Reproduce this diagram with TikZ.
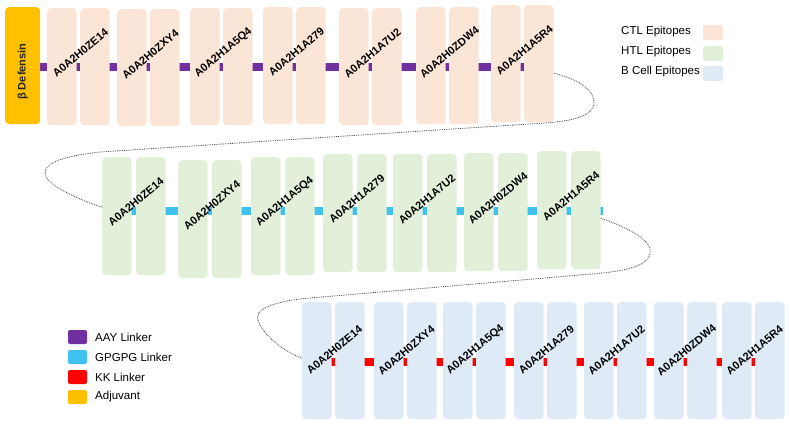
\documentclass[tikz,border=0pt]{standalone}
\usepackage{fontspec}
\setmainfont{Liberation Sans}
\usetikzlibrary{backgrounds}

\definecolor{ctlfill}{HTML}{FBE5D6}
\definecolor{htlfill}{HTML}{E2F0D9}
\definecolor{bcellfill}{HTML}{DEEBF7}
\definecolor{aaycol}{HTML}{7030A0}
\definecolor{gpgpgcol}{HTML}{40C2F1}
\definecolor{kkcol}{HTML}{FF0000}
\definecolor{adjcol}{HTML}{FFC000}

\begin{document}
\begin{tikzpicture}[
  x=1pt, y=-1pt,
  epi/.style={rectangle, draw=none, rounded corners=4pt, minimum width=29.5pt, minimum height=117pt, inner sep=0pt, anchor=north west},
  ctl/.style={epi, fill=ctlfill},
  htl/.style={epi, fill=htlfill, minimum height=118pt},
  bcell/.style={epi, fill=bcellfill},
  adjbox/.style={epi, fill=adjcol, minimum width=35pt},
  epilabel/.style={font=\fontsize{11}{13}\selectfont\bfseries, rotate=40, inner sep=0pt},
  linker/.style={line width=8pt},
  aay/.style={linker, draw=aaycol},
  gpgpg/.style={linker, draw=gpgpgcol},
  kk/.style={linker, draw=kkcol},
  swatch/.style={rectangle, rounded corners=2pt, minimum width=20pt, minimum height=15pt, inner sep=0pt},
  legtext/.style={font=\fontsize{11.5}{13}\selectfont, anchor=west, inner sep=0pt},
  chain/.style={densely dotted, line width=0.8pt, draw=black!75}
]
\useasboundingbox (0,0) rectangle (790,425);

% adjuvant
\node[adjbox] (adj) at (5,7) {};
\node[rotate=90, font=\fontsize{11}{13}\selectfont\bfseries, text=black!85] (adjtext) at ([yshift=-6pt]adj.center) {β Defensin};

% CTL row
\foreach \x/\y/\lab [count=\i] in {47/8/A0A2H0ZE14, 117/9/A0A2H0ZXY4, 190/8/A0A2H1A5Q4, 263/7/A0A2H1A279, 339/8/A0A2H1A7U2, 416/7/A0A2H0ZDW4, 491/5/A0A2H1A5R4} {
  \node[ctl] (c\i-a) at (\x,\y) {};
  \node[ctl] (c\i-b) at (\x+33,\y) {};
  \node[epilabel] (c\i-l) at (\x+33.5,\y+45) {\lab};
}

% HTL row
\foreach \x/\y/\lab [count=\i] in {102/157/A0A2H0ZE14, 178/160/A0A2H0ZXY4, 251/157/A0A2H1A5Q4, 323/154/A0A2H1A279, 393/154/A0A2H1A7U2, 464/153/A0A2H0ZDW4, 537/151/A0A2H1A5R4} {
  \node[htl] (h\i-a) at (\x,\y) {};
  \node[htl] (h\i-b) at (\x+34,\y) {};
  \node[epilabel] (h\i-l) at (\x+34,\y+45) {\lab};
}

% B cell row
\foreach \x/\y/\lab [count=\i] in {302/302/A0A2H0ZE14, 374/302/A0A2H0ZXY4, 443/302/A0A2H1A5Q4, 514/302/A0A2H1A279, 584/302/A0A2H1A7U2, 654/302/A0A2H0ZDW4, 722/302/A0A2H1A5R4} {
  \node[bcell] (b\i-a) at (\x,\y) {};
  \node[bcell] (b\i-b) at (\x+33,\y) {};
  \node[epilabel] (b\i-l) at (\x+32.5,\y+48) {\lab};
}

% linkers behind the epitopes
\coordinate (r1) at (0,67);
\coordinate (r2) at (0,211);
\coordinate (r3) at (0,362);
\begin{pgfonlayer}{background}
  \draw[aay] (adj.center |- r1) -- (c7-b.center |- r1);
  \draw[gpgpg] (h1-a.center |- r2) -- ([xshift=2pt]h7-b.east |- r2);
  \draw[kk] (b1-a.center |- r3) -- (b7-b.center |- r3);
\end{pgfonlayer}

% row to row
\draw[chain] ([yshift=-9.5pt]c7-b.east) .. controls (582,80) and (595,92) .. (594,104)
  .. controls (593,115) and (575,121) .. (545,123) -- (100,152)
  .. controls (55,157) and (45,165) .. (45,173)
  .. controls (45,185) and (80,200) .. ([yshift=9pt]h1-a.west);
\draw[chain] ([yshift=-8pt]h7-b.east) .. controls (640,232) and (652,244) .. (650,253)
  .. controls (648,268) and (620,272) .. (580,275) -- (310,298)
  .. controls (265,302) and (255,312) .. (258,320)
  .. controls (262,335) and (285,352) .. ([yshift=2.5pt]b1-a.west);

% epitope legend
\node[legtext] (ctlleg) at (621,32) {CTL Epitopes};
\node[legtext] (htlleg) at (621,52) {HTL Epitopes};
\node[legtext] (bleg) at (621,72) {B Cell Epitopes};
\node[swatch, fill=ctlfill] (ctlsw) at (713,32.5) {};
\node[swatch, fill=htlfill] (htlsw) at (713,53.5) {};
\node[swatch, fill=bcellfill] (bsw) at (713,73.5) {};

% linker legend
\node[swatch, fill=aaycol, minimum width=19pt, minimum height=14pt] (aaysw) at (77.5,337) {};
\node[swatch, fill=gpgpgcol, minimum width=19pt, minimum height=14pt] (gpgpgsw) at (77.5,357) {};
\node[swatch, fill=kkcol, minimum width=19pt, minimum height=14pt] (kksw) at (77.5,377) {};
\node[swatch, fill=adjcol, minimum width=19pt, minimum height=14pt] (adjsw) at (77.5,397) {};
\node[legtext] (aayleg) at (95,337) {AAY Linker};
\node[legtext] (gpgpgleg) at (95,357) {GPGPG Linker};
\node[legtext] (kkleg) at (95,377) {KK Linker};
\node[legtext] (adjleg) at (95,397) {Adjuvant};
\end{tikzpicture}
\end{document}
